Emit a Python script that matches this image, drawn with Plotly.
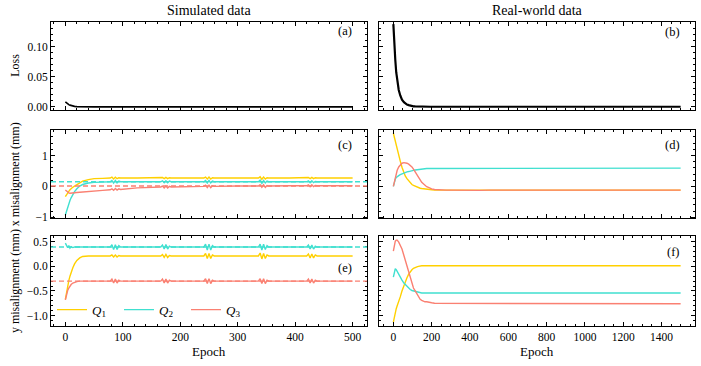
import plotly.graph_objects as go
from plotly.subplots import make_subplots

# ---- data ----
sim_ep = [0, 2, 4, 6, 8, 10, 13, 16, 20, 25, 30, 40, 50, 65,
          78, 81, 84, 87, 90, 93, 96, 125,
          166, 169, 172, 175, 178, 181, 184, 215,
          241, 244, 247, 250, 253, 256, 259, 300,
          336, 339, 342, 345, 348, 351, 354, 390,
          420, 423, 426, 429, 432, 435, 438, 470, 500]

sim_loss = [0.0085, 0.0066, 0.0051, 0.0039, 0.0030, 0.0023, 0.0015, 0.0010, 0.0006, 0.0004, 0.0003, 0.0002, 0.0002, 0.0002,
            0.0002, 0.0004, 0.0001, 0.0004, 0.0001, 0.0003, 0.0002, 0.0002,
            0.0002, 0.0004, 0.0001, 0.0004, 0.0001, 0.0003, 0.0002, 0.0002,
            0.0002, 0.0004, 0.0001, 0.0004, 0.0001, 0.0003, 0.0002, 0.0002,
            0.0002, 0.0005, 0.0001, 0.0005, 0.0001, 0.0003, 0.0002, 0.0002,
            0.0002, 0.0004, 0.0001, 0.0004, 0.0001, 0.0003, 0.0002, 0.0002, 0.0002]

sim_x_q1 = [-0.33, -0.26, -0.21, -0.16, -0.11, -0.07, -0.03, 0.01, 0.06, 0.12, 0.17, 0.22, 0.25, 0.26,
            0.27, 0.30, 0.24, 0.30, 0.25, 0.28, 0.27, 0.27,
            0.27, 0.29, 0.25, 0.29, 0.25, 0.28, 0.27, 0.27,
            0.27, 0.30, 0.24, 0.30, 0.24, 0.28, 0.27, 0.27,
            0.27, 0.31, 0.23, 0.30, 0.24, 0.28, 0.27, 0.27,
            0.27, 0.29, 0.25, 0.29, 0.25, 0.28, 0.27, 0.27, 0.27]
sim_x_q2 = [-0.93, -0.80, -0.68, -0.56, -0.46, -0.37, -0.26, -0.17, -0.08, 0.01, 0.06, 0.11, 0.13, 0.14,
            0.15, 0.19, 0.11, 0.19, 0.11, 0.17, 0.15, 0.15,
            0.15, 0.18, 0.12, 0.18, 0.12, 0.17, 0.15, 0.15,
            0.15, 0.19, 0.11, 0.19, 0.11, 0.17, 0.15, 0.15,
            0.15, 0.20, 0.10, 0.19, 0.11, 0.17, 0.15, 0.15,
            0.15, 0.18, 0.12, 0.18, 0.12, 0.16, 0.15, 0.15, 0.15]
sim_x_q3 = [-0.12, -0.16, -0.19, -0.21, -0.22, -0.22, -0.22, -0.21, -0.20, -0.19, -0.18, -0.16, -0.15, -0.13,
            -0.11, -0.08, -0.13, -0.07, -0.12, -0.08, -0.10, -0.05,
            -0.02, 0.01, -0.05, 0.01, -0.05, 0.00, -0.02, -0.01,
            0.00, 0.04, -0.04, 0.04, -0.04, 0.02, 0.00, 0.01,
            0.01, 0.05, -0.03, 0.05, -0.03, 0.03, 0.01, 0.02,
            0.02, 0.05, -0.01, 0.05, -0.01, 0.03, 0.02, 0.02, 0.02]

sim_y_q1 = [-0.67, -0.52, -0.40, -0.29, -0.20, -0.12, -0.03, 0.05, 0.12, 0.17, 0.20, 0.21, 0.21, 0.21,
            0.21, 0.23, 0.19, 0.23, 0.19, 0.22, 0.21, 0.21,
            0.21, 0.24, 0.18, 0.24, 0.18, 0.22, 0.21, 0.21,
            0.21, 0.26, 0.16, 0.26, 0.16, 0.23, 0.21, 0.21,
            0.21, 0.27, 0.15, 0.26, 0.16, 0.23, 0.21, 0.21,
            0.21, 0.25, 0.17, 0.25, 0.17, 0.23, 0.21, 0.21, 0.21]
sim_y_q2 = [0.47, 0.43, 0.38, 0.42, 0.37, 0.40, 0.38, 0.39, 0.39, 0.39, 0.39, 0.39, 0.39, 0.39,
            0.39, 0.44, 0.34, 0.44, 0.34, 0.42, 0.39, 0.39,
            0.39, 0.43, 0.35, 0.44, 0.35, 0.41, 0.39, 0.39,
            0.39, 0.45, 0.33, 0.45, 0.33, 0.42, 0.39, 0.39,
            0.39, 0.45, 0.33, 0.45, 0.34, 0.42, 0.39, 0.39,
            0.39, 0.43, 0.35, 0.43, 0.35, 0.41, 0.39, 0.39, 0.39]
sim_y_q3 = [-0.68, -0.57, -0.49, -0.44, -0.40, -0.37, -0.34, -0.32, -0.31, -0.30, -0.30, -0.30, -0.30, -0.30,
            -0.30, -0.26, -0.34, -0.26, -0.34, -0.28, -0.30, -0.30,
            -0.30, -0.26, -0.34, -0.26, -0.34, -0.28, -0.30, -0.30,
            -0.30, -0.25, -0.35, -0.25, -0.35, -0.28, -0.30, -0.30,
            -0.30, -0.25, -0.35, -0.25, -0.35, -0.28, -0.30, -0.30,
            -0.30, -0.26, -0.34, -0.26, -0.34, -0.28, -0.30, -0.30, -0.30]

# true values (dashed lines) for the simulated data
true_x = [0.27, 0.15, 0.01]
true_y = [0.21, 0.39, -0.30]

real_ep = [0, 5, 10, 15, 20, 28, 36, 45, 55, 62, 71, 80, 88, 97, 105, 114, 123, 131, 140, 148,
           157, 165, 174, 183, 192, 200, 215, 230, 250, 275, 300, 350, 400, 450, 500, 550, 600,
           650, 700, 750, 800, 850, 900, 950, 1000, 1050, 1100, 1150, 1200, 1250, 1300, 1350,
           1400, 1450, 1500]

real_loss = [0.137, 0.100, 0.078, 0.057, 0.044, 0.028, 0.019, 0.012, 0.008, 0.006, 0.004, 0.003,
             0.002, 0.0015, 0.001, 0.0008, 0.0006, 0.0005, 0.0004, 0.0004, 0.0003, 0.0003, 0.0003,
             0.0003, 0.0003, 0.0003, 0.0003, 0.0003, 0.0003, 0.0003, 0.0003, 0.0003, 0.0003,
             0.0003, 0.0003, 0.0003, 0.0003, 0.0003, 0.0003, 0.0003, 0.0003, 0.0003, 0.0003,
             0.0003, 0.0003, 0.0003, 0.0003, 0.0003, 0.0003, 0.0003, 0.0003, 0.0003, 0.0003,
             0.0003, 0.0003]

real_x_q1 = [1.72, 1.58, 1.45, 1.31, 1.18, 1.00, 0.82, 0.62, 0.44, 0.34, 0.25, 0.17, 0.11, 0.06,
             0.03, 0.00, -0.02, -0.04, -0.06, -0.07, -0.08, -0.09, -0.10, -0.10, -0.11, -0.11,
             -0.12, -0.12, -0.12, -0.12, -0.12, -0.12, -0.13, -0.12, -0.12, -0.12, -0.12, -0.12,
             -0.12, -0.12, -0.12, -0.12, -0.12, -0.12, -0.12, -0.12, -0.12, -0.12, -0.12, -0.12,
             -0.12, -0.12, -0.12, -0.12, -0.12]
real_x_q2 = [0.00, 0.14, 0.23, 0.29, 0.32, 0.35, 0.38, 0.41, 0.43, 0.45, 0.47, 0.48, 0.50, 0.51,
             0.52, 0.53, 0.54, 0.55, 0.56, 0.56, 0.57, 0.57, 0.58, 0.58, 0.58, 0.59, 0.59, 0.59,
             0.59, 0.59, 0.59, 0.59, 0.59, 0.59, 0.59, 0.58, 0.59, 0.59, 0.59, 0.59, 0.59, 0.59,
             0.59, 0.59, 0.59, 0.60, 0.59, 0.59, 0.59, 0.59, 0.59, 0.59, 0.59, 0.59, 0.59]
real_x_q3 = [0.00, 0.15, 0.29, 0.42, 0.52, 0.63, 0.70, 0.75, 0.77, 0.77, 0.75, 0.72, 0.68, 0.63,
             0.56, 0.48, 0.39, 0.30, 0.21, 0.13, 0.08, 0.03, -0.01, -0.03, -0.06, -0.08, -0.10,
             -0.11, -0.12, -0.12, -0.12, -0.13, -0.12, -0.13, -0.12, -0.12, -0.13, -0.12, -0.12,
             -0.13, -0.12, -0.11, -0.12, -0.12, -0.13, -0.12, -0.12, -0.12, -0.13, -0.11, -0.12,
             -0.12, -0.12, -0.13, -0.12]

real_y_q1 = [-1.13, -1.02, -0.93, -0.86, -0.80, -0.72, -0.62, -0.50, -0.39, -0.31, -0.23, -0.16,
             -0.11, -0.07, -0.04, -0.02, -0.01, 0.00, 0.01, 0.01, 0.01, 0.01, 0.01, 0.01, 0.01,
             0.01, 0.01, 0.01, 0.01, 0.01, 0.01, 0.01, 0.01, 0.01, 0.01, 0.01, 0.01, 0.01, 0.01,
             0.01, 0.01, 0.01, 0.01, 0.01, 0.01, 0.01, 0.01, 0.01, 0.01, 0.01, 0.01, 0.01, 0.01,
             0.01, 0.01]
real_y_q2 = [-0.22, -0.12, -0.05, -0.07, -0.11, -0.17, -0.23, -0.28, -0.34, -0.37, -0.41, -0.44,
             -0.47, -0.49, -0.50, -0.51, -0.52, -0.53, -0.53, -0.54, -0.54, -0.54, -0.54, -0.54,
             -0.54, -0.54, -0.54, -0.54, -0.54, -0.54, -0.54, -0.54, -0.54, -0.54, -0.54, -0.54,
             -0.54, -0.54, -0.54, -0.54, -0.54, -0.54, -0.54, -0.54, -0.54, -0.54, -0.54, -0.54,
             -0.54, -0.54, -0.54, -0.54, -0.54, -0.54, -0.54]
real_y_q3 = [0.31, 0.45, 0.51, 0.53, 0.53, 0.49, 0.43, 0.35, 0.22, 0.13, 0.01, -0.11, -0.23, -0.35,
             -0.44, -0.50, -0.57, -0.62, -0.67, -0.69, -0.71, -0.72, -0.72, -0.73, -0.74, -0.74,
             -0.75, -0.75, -0.76, -0.76, -0.76, -0.76, -0.75, -0.76, -0.76, -0.75, -0.76, -0.76,
             -0.75, -0.76, -0.76, -0.75, -0.76, -0.76, -0.75, -0.76, -0.75, -0.76, -0.76, -0.75,
             -0.76, -0.75, -0.76, -0.76, -0.76]

q_names = ["<i>Q</i><sub>1</sub>", "<i>Q</i><sub>2</sub>", "<i>Q</i><sub>3</sub>"]
q_colors = ["#FFD000", "#40E0D0", "#FA8072"]

FONT = "Liberation Serif"
W, H = 701, 366

fig = make_subplots(rows=3, cols=2)

# loss
fig.add_trace(go.Scatter(x=sim_ep, y=sim_loss, mode="lines", line=dict(color="black", width=1.6),
                         showlegend=False), row=1, col=1)
fig.add_trace(go.Scatter(x=real_ep, y=real_loss, mode="lines", line=dict(color="black", width=2.2),
                         showlegend=False), row=1, col=2)

# x misalignment
for vals, col_, tv in zip([sim_x_q1, sim_x_q2, sim_x_q3], q_colors, true_x):
    fig.add_hline(y=tv, line=dict(color=col_, width=1.4, dash="5px,3px"), row=2, col=1)
    fig.add_trace(go.Scatter(x=sim_ep, y=vals, mode="lines", line=dict(color=col_, width=1.4),
                             showlegend=False), row=2, col=1)
for vals, col_ in zip([real_x_q1, real_x_q2, real_x_q3], q_colors):
    fig.add_trace(go.Scatter(x=real_ep, y=vals, mode="lines", line=dict(color=col_, width=1.4),
                             showlegend=False), row=2, col=2)

# y misalignment
for vals, name, col_, tv in zip([sim_y_q1, sim_y_q2, sim_y_q3], q_names, q_colors, true_y):
    fig.add_hline(y=tv, line=dict(color=col_, width=1.4, dash="5px,3px"), row=3, col=1)
    fig.add_trace(go.Scatter(x=sim_ep, y=vals, mode="lines", line=dict(color=col_, width=1.4),
                             name=name, showlegend=True), row=3, col=1)
for vals, col_ in zip([real_y_q1, real_y_q2, real_y_q3], q_colors):
    fig.add_trace(go.Scatter(x=real_ep, y=vals, mode="lines", line=dict(color=col_, width=1.4),
                             showlegend=False), row=3, col=2)

# panel geometry in pixels (left, right) / (top, bottom)
cols_px = [(51, 367), (379, 695)]
rows_px = [(22, 111.5), (132, 221.5), (239, 331)]
y_ranges = [[-0.005, 0.141], [-1.04, 1.82], [-1.22, 0.62]]
y_dtick = [0.05, 1, 0.5]
y_minor = [0.01, 0.2, 0.1]
y_fmt = [".2f", "d", ".1f"]
x_ranges = [[-25, 525], [-75, 1575]]
x_dtick = [100, 200]
x_minor = [20, 50]

axis_common = dict(showline=True, linecolor="black", linewidth=1, mirror="allticks",
                   ticks="inside", ticklen=4, tickwidth=0.8, tickcolor="black",
                   showgrid=False, zeroline=False,
                   tickfont=dict(family=FONT, size=11.5, color="black"))

for r in range(3):
    for c in range(2):
        x0, x1 = cols_px[c]
        t, b = rows_px[r]
        fig.update_xaxes(row=r + 1, col=c + 1, domain=[x0 / W, x1 / W], range=x_ranges[c],
                         dtick=x_dtick[c], tick0=0, showticklabels=(r == 2),
                         minor=dict(ticks="inside", ticklen=2, dtick=x_minor[c], tick0=0,
                                    tickcolor="black", tickwidth=0.7),
                         **axis_common)
        fig.update_yaxes(row=r + 1, col=c + 1, domain=[1 - b / H, 1 - t / H], range=y_ranges[r],
                         dtick=y_dtick[r], tick0=0, tickformat=y_fmt[r], showticklabels=(c == 0),
                         minor=dict(ticks="inside", ticklen=2, dtick=y_minor[r], tick0=0,
                                    tickcolor="black", tickwidth=0.7),
                         **axis_common)


def paper_note(text, px, py, size=12, angle=0, xanchor="center"):
    return dict(text=text, x=px / W, y=1 - py / H, xref="paper", yref="paper",
                xanchor=xanchor, yanchor="middle", textangle=angle, showarrow=False,
                font=dict(family=FONT, size=size, color="black"))


annotations = []
# column titles
for c, txt in enumerate(["Simulated data", "Real-world data"]):
    x0, x1 = cols_px[c]
    annotations.append(paper_note(txt, (x0 + x1) / 2, 11, size=14))
# y titles
for r, txt in enumerate(["Loss", "x misalignment (mm)", "y misalignment (mm)"]):
    t, b = rows_px[r]
    annotations.append(paper_note(txt, 15, (t + b) / 2, size=12, angle=-90))
# x titles
for c in range(2):
    x0, x1 = cols_px[c]
    annotations.append(paper_note("Epoch", (x0 + x1) / 2, 356, size=13))
# panel letters: (label, row, col, px from top)
letters = [("(a)", 0, 0, 9), ("(b)", 0, 1, 10), ("(c)", 1, 0, 15), ("(d)", 1, 1, 15),
           ("(e)", 2, 0, 33), ("(f)", 2, 1, 16)]
for lab, r, c, off in letters:
    x0, x1 = cols_px[c]
    t, b = rows_px[r]
    annotations.append(paper_note(lab, x1 - 13, t + off, size=12.5, xanchor="right"))

fig.update_layout(
    width=W, height=H,
    margin=dict(l=0, r=0, t=0, b=0),
    paper_bgcolor="white", plot_bgcolor="white",
    font=dict(family=FONT, size=12, color="black"),
    annotations=annotations,
    legend=dict(orientation="h", x=52 / W, y=1 - 314 / H, xanchor="left", yanchor="middle",
                bgcolor="rgba(0,0,0,0)", font=dict(family=FONT, size=13, color="black"),
                entrywidth=22, entrywidthmode="pixels", itemwidth=30),
)

fig.write_html("out.html", config={"displayModeBar": False},
               post_script="document.body.style.margin='0px';")
